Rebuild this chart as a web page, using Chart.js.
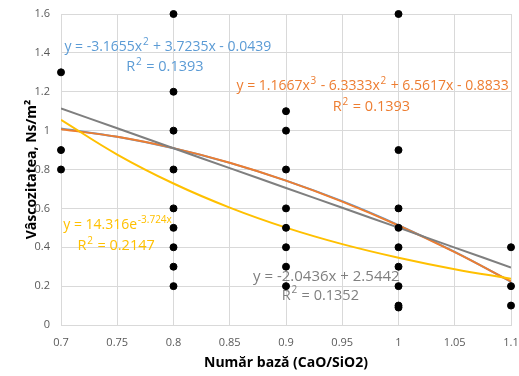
<!DOCTYPE html>
<html>
<head>
<meta charset="utf-8">
<script src="https://cdn.jsdelivr.net/npm/chart.js@4"></script>
<style>
    html, body { margin: 0; padding: 0; background: #fff; }
    #wrap { width: 519px; height: 376px; }
</style>
</head>
<body>
<div id="wrap"><canvas id="chart" width="519" height="376"></canvas></div>
<script>
// measured points (basicity vs viscosity)
const pointX = [0.7, 0.7, 0.7,
    0.8, 0.8, 0.8, 0.8, 0.8, 0.8, 0.8, 0.8, 0.8,
    0.9, 0.9, 0.9, 0.9, 0.9, 0.9, 0.9, 0.9,
    1.0, 1.0, 1.0, 1.0, 1.0, 1.0, 1.0, 1.0, 1.0,
    1.1, 1.1, 1.1];
const pointY = [1.3, 0.9, 0.8,
    1.6, 1.2, 1.0, 0.8, 0.6, 0.5, 0.4, 0.3, 0.2,
    1.1, 1.0, 0.8, 0.6, 0.5, 0.4, 0.3, 0.2,
    1.6, 0.9, 0.6, 0.5, 0.4, 0.3, 0.2, 0.1, 0.09,
    0.4, 0.2, 0.1];

// trendlines at each 0.05 step
const trendX = [0.7, 0.75, 0.8, 0.85, 0.9, 0.95, 1.0, 1.05, 1.1];
const polyTrend = [1.011, 0.968, 0.909, 0.834, 0.743, 0.637, 0.514, 0.376, 0.222];
const cubicTrend = [1.007, 0.968, 0.910, 0.835, 0.743, 0.635, 0.512, 0.375, 0.224];
const expTrend = [1.056, 0.877, 0.728, 0.604, 0.501, 0.416, 0.346, 0.287, 0.238];
const linTrend = [1.114, 1.012, 0.909, 0.807, 0.705, 0.603, 0.501, 0.398, 0.296];

const xTicks = [0.7, 0.75, 0.8, 0.85, 0.9, 0.95, 1, 1.05, 1.1];
const yTicks = [0, 0.2, 0.4, 0.6, 0.8, 1, 1.2, 1.4, 1.6];

const BLUE = '#5B9BD5', ORANGE = '#ED7D31', YELLOW = '#FFC000', GRAY = '#7F7F7F';

function pairs(xs, ys) {
    return xs.map((x, i) => ({ x: x, y: ys[i] }));
}

function trend(label, ys, color, order) {
    return {
        label: label,
        data: pairs(trendX, ys),
        showLine: true,
        borderColor: color,
        borderWidth: 2,
        pointRadius: 0,
        tension: 0.4,
        order: order
    };
}

// equation texts, anchored in axis units; size in px, superscripts flagged with 1
const equations = [
    { parts: [['y = -3.1655x', 0], ['2', 1], [' + 3.7235x - 0.0439', 0]], x: 0.703, y: 1.43, align: 'left', color: BLUE, size: 14 },
    { parts: [['R', 0], ['2', 1], [' = 0.1393', 0]], x: 0.7924, y: 1.327, align: 'center', color: BLUE, size: 14.5 },
    { parts: [['y = 1.1667x', 0], ['3', 1], [' - 6.3333x', 0], ['2', 1], [' + 6.5617x - 0.8833', 0]], x: 0.856, y: 1.23, align: 'left', color: ORANGE, size: 14 },
    { parts: [['R', 0], ['2', 1], [' = 0.1393', 0]], x: 0.976, y: 1.12, align: 'center', color: ORANGE, size: 14.5 },
    { parts: [['y = 14.316e', 0], ['-3.724x', 1]], x: 0.702, y: 0.514, align: 'left', color: YELLOW, size: 14 },
    { parts: [['R', 0], ['2', 1], [' = 0.2147', 0]], x: 0.749, y: 0.406, align: 'center', color: YELLOW, size: 14.5 },
    { parts: [['y = -2.0436x + 2.5442', 0]], x: 0.8707, y: 0.247, align: 'left', color: GRAY, size: 15 },
    { parts: [['R', 0], ['2', 1], [' = 0.1352', 0]], x: 0.9305, y: 0.152, align: 'center', color: GRAY, size: 14.5 }
];

const equationPlugin = {
    id: 'equations',
    afterDatasetsDraw(chart) {
        const ctx = chart.ctx;
        const xs = chart.scales.x, ys = chart.scales.y;
        ctx.save();
        ctx.textBaseline = 'middle';
        ctx.textAlign = 'left';
        equations.forEach(eq => {
            const big = eq.size + 'px "Open Sans", sans-serif';
            const small = Math.round(eq.size * 0.7) + 'px "Open Sans", sans-serif';
            const gap = part => (part[1] ? 1.5 : 0);
            let total = 0;
            eq.parts.forEach(p => {
                ctx.font = p[1] ? small : big;
                total += ctx.measureText(p[0]).width + gap(p);
            });
            let px = xs.getPixelForValue(eq.x);
            const py = ys.getPixelForValue(eq.y);
            if (eq.align === 'center') px -= total / 2;
            ctx.fillStyle = eq.color;
            eq.parts.forEach(p => {
                ctx.font = p[1] ? small : big;
                ctx.fillText(p[0], px + gap(p) / 2, p[1] ? py - 5 : py);
                px += ctx.measureText(p[0]).width + gap(p);
            });
        });
        ctx.restore();
    }
};

new Chart(document.getElementById('chart').getContext('2d'), {
    type: 'scatter',
    data: {
        datasets: [
            {
                label: 'Date',
                data: pairs(pointX, pointY),
                backgroundColor: '#000',
                borderColor: '#000',
                pointRadius: 3.5,
                clip: false,
                order: 0
            },
            trend('Poly2', polyTrend, BLUE, 4),
            trend('Poly3', cubicTrend, ORANGE, 3),
            trend('Expon', expTrend, YELLOW, 2),
            trend('Linear', linTrend, GRAY, 1)
        ]
    },
    options: {
        responsive: false,
        animation: false,
        layout: { padding: { top: 14, right: 0, left: 0, bottom: 0 } },
        plugins: {
            legend: { display: false },
            tooltip: { enabled: false }
        },
        scales: {
            x: {
                type: 'linear',
                min: 0.7,
                max: 1.1,
                afterBuildTicks: axis => { axis.ticks = xTicks.map(v => ({ value: v })); },
                afterFit: axis => {
                    axis.height = 51;
                    axis.paddingLeft = 0;
                    axis.paddingRight = 8;
                },
                grid: { color: '#D9D9D9', drawTicks: false },
                border: { color: '#D9D9D9' },
                ticks: {
                    color: '#595959',
                    padding: 11,
                    font: { family: '"Open Sans", sans-serif', size: 11 },
                    callback: v => String(+v.toFixed(2))
                },
                title: {
                    display: true,
                    text: 'Număr bază (CaO/SiO2)',
                    color: '#000',
                    font: { family: '"Open Sans", sans-serif', size: 14, weight: 'bold' },
                    padding: { top: 0, bottom: 5 }
                }
            },
            y: {
                min: 0,
                max: 1.6,
                afterBuildTicks: axis => { axis.ticks = yTicks.map(v => ({ value: v })); },
                afterFit: axis => {
                    axis.width = 61;
                    axis.paddingTop = 0;
                    axis.paddingBottom = 0;
                },
                grid: { color: '#D9D9D9', drawTicks: false },
                border: { display: false },
                ticks: {
                    color: '#595959',
                    padding: 11,
                    font: { family: '"Open Sans", sans-serif', size: 11 },
                    callback: v => String(+v.toFixed(1))
                },
                title: {
                    display: true,
                    text: 'Vâscozitatea, Ns/m²',
                    color: '#000',
                    font: { family: '"Open Sans", sans-serif', size: 14, weight: 'bold' },
                    padding: { top: 24, bottom: 0 }
                }
            }
        }
    },
    plugins: [equationPlugin]
});
</script>
</body>
</html>
